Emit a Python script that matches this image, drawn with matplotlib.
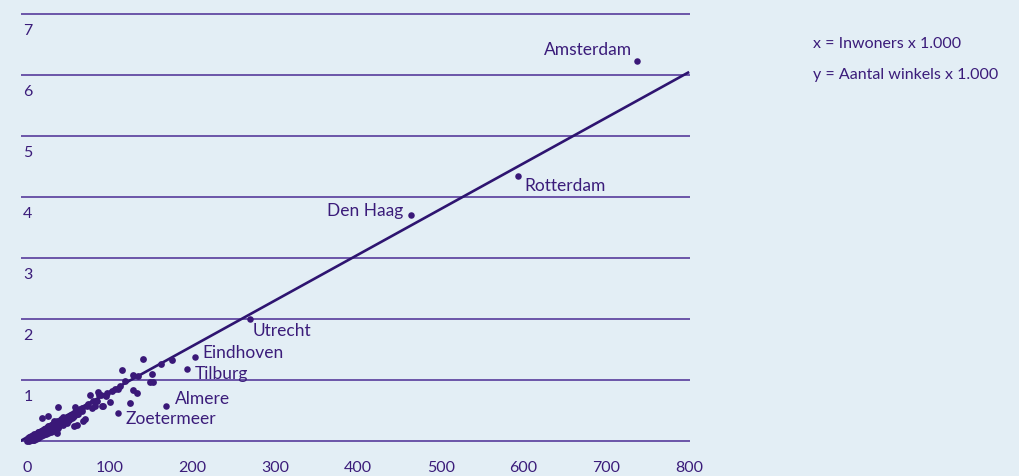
import matplotlib.pyplot as plt

plt.rcParams['font.family'] = ['Lato', 'DejaVu Sans']

bg = '#e3eef5'
purple = '#3b1c7a'
grid_col = '#4b2c94'

# inwoners x 1.000 / aantal winkels x 1.000
cities = ['Amsterdam', 'Rotterdam', 'Den Haag', 'Utrecht', 'Eindhoven',
          'Tilburg', 'Almere', 'Zoetermeer']
city_x = [737, 593, 464, 269, 203, 193, 168, 110]
city_y = [6.23, 4.34, 3.70, 2.00, 1.38, 1.18, 0.57, 0.46]
label_offsets = [(-5, 12), (7, -9), (-8, 5), (3, -11), (7, 5), (8, -4), (9, 8), (8, -5)]
label_align = ['right', 'left', 'right', 'left', 'left', 'left', 'left', 'left']

other_x = [140, 115, 162, 175, 128, 134, 151, 149, 152, 128, 133, 125, 112, 110,
           103, 106, 100, 91, 87, 89, 86, 76, 80, 82, 74, 78, 92, 68, 57, 60, 66,
           70, 58, 54, 37, 18, 25, 36,
           0.5, 1, 2, 3, 4, 4, 5, 6, 6, 7, 8, 8, 9, 10, 10, 11, 12, 12, 13, 14,
           14, 15, 15, 16, 16, 17, 18, 18, 19, 20, 20, 21, 22, 22, 23, 24, 24,
           25, 25, 26, 26, 27, 28, 28, 29, 30, 30, 31, 32, 32, 33, 33, 34, 35,
           35, 36, 37, 38, 38, 39, 40, 41, 42, 43, 44, 45, 46, 47, 48, 50, 52,
           54, 55, 57, 60, 62, 65,
           1, 2, 3, 3, 5, 5, 7, 7, 9, 9, 11, 11, 13, 13, 15, 17, 17, 19, 19, 21,
           21, 23, 23, 25, 27, 27, 29, 29, 31, 31, 34, 34, 36, 36, 39, 41, 43,
           44, 46, 48, 49, 51, 53, 56, 58, 61, 64, 67, 72, 84, 95, 97, 119]
other_y = [1.34, 1.16, 1.26, 1.33, 1.08, 1.07, 1.10, 0.97, 0.97, 0.84, 0.79, 0.62,
           0.90, 0.86, 0.82, 0.85, 0.64, 0.57, 0.75, 0.75, 0.80, 0.75, 0.66, 0.57,
           0.61, 0.54, 0.57, 0.33, 0.25, 0.26, 0.49, 0.36, 0.56, 0.40, 0.56, 0.38,
           0.41, 0.13,
           0.00, 0.02, 0.01, 0.03, 0.02, 0.06, 0.04, 0.03, 0.07, 0.05, 0.04, 0.02,
           0.06, 0.05, 0.08, 0.07, 0.06, 0.10, 0.09, 0.08, 0.12, 0.10, 0.15, 0.13,
           0.09, 0.12, 0.11, 0.15, 0.14, 0.12, 0.17, 0.15, 0.13, 0.19, 0.16, 0.18,
           0.14, 0.20, 0.25, 0.17, 0.22, 0.19, 0.16, 0.23, 0.21, 0.18, 0.25, 0.22,
           0.20, 0.27, 0.24, 0.33, 0.21, 0.27, 0.30, 0.24, 0.28, 0.31, 0.22, 0.27,
           0.30, 0.33, 0.28, 0.31, 0.35, 0.30, 0.33, 0.37, 0.32, 0.36, 0.40, 0.38,
           0.43, 0.41, 0.45, 0.44, 0.50,
           0.05, 0.04, 0.00, 0.07, 0.01, 0.08, 0.02, 0.09, 0.03, 0.11, 0.04, 0.12,
           0.05, 0.14, 0.06, 0.08, 0.16, 0.10, 0.18, 0.11, 0.20, 0.12, 0.21, 0.13,
           0.16, 0.24, 0.14, 0.26, 0.17, 0.28, 0.19, 0.29, 0.20, 0.32, 0.25, 0.36,
           0.26, 0.39, 0.36, 0.29, 0.40, 0.34, 0.42, 0.39, 0.47, 0.48, 0.52, 0.54,
           0.58, 0.66, 0.74, 0.79, 0.98]

trend_x = [-8, 800]
trend_y = [0.0, 6.05]

y_ticks = [0, 1, 2, 3, 4, 5, 6, 7]
x_ticks = [0, 100, 200, 300, 400, 500, 600, 700, 800]

fig = plt.figure(figsize=(10.19, 4.77), dpi=100, facecolor=bg)
ax = fig.add_axes([21 / 1019, 1 - 445 / 477, 669 / 1019, 433 / 477])
ax.set_facecolor(bg)
ax.set_xlim(-7.25, 801)
ax.set_ylim(-0.05, 7.05)
ax.axis('off')

for yv in y_ticks:
    ax.axhline(yv, color=grid_col, lw=1.1, zorder=1)
    if yv > 0:
        ax.text(-4.5, yv - 0.26, str(yv), ha='left', va='center',
                fontsize=11.5, color=purple)

for xv in x_ticks:
    ax.text(xv, -0.42, str(xv), ha='center', va='center', fontsize=11.5,
            color=purple, clip_on=False)

ax.plot(trend_x, trend_y, color='#2e1470', lw=1.9, zorder=2, solid_capstyle='butt')
ax.scatter(other_x, other_y, s=24, color='#3a1878', linewidths=0, zorder=3)
ax.scatter(city_x, city_y, s=22, color='#3a1878', linewidths=0, zorder=3)

for name, cx, cy, off, ha in zip(cities, city_x, city_y, label_offsets, label_align):
    ax.annotate(name, (cx, cy), xytext=off, textcoords='offset pixels',
                ha=ha, va='center', fontsize=12.5, color=purple)

fig.text(813 / 1019, 1 - 44 / 477, 'x = Inwoners x 1.000', ha='left', va='center',
         fontsize=11.5, color=purple)
fig.text(813 / 1019, 1 - 75 / 477, 'y = Aantal winkels x 1.000', ha='left', va='center',
         fontsize=11.5, color=purple)

fig.savefig('out.png', dpi=100, facecolor=bg)
